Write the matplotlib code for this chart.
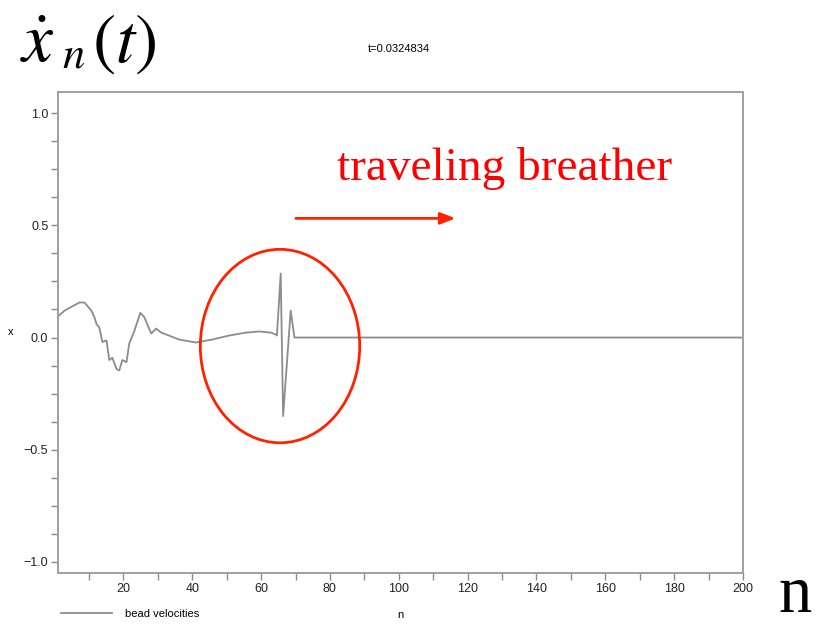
import matplotlib.pyplot as plt
from matplotlib.patches import Ellipse
from matplotlib.ticker import MultipleLocator

# bead index and velocity snapshot
n = [1, 2.9, 7.2, 8.7, 10.7, 11.6, 12.2, 13.0, 13.9, 15.1, 15.9, 16.8, 18.0,
     18.8, 19.7, 20.9, 21.7, 23.2, 24.9, 26.1, 26.9, 28.1, 29.5, 31.0, 33.9,
     36.2, 41.1, 45.8, 50.7, 55.6, 59.4, 62.9, 64.3, 64.6, 65.7, 66.4, 68.6,
     69.7, 200]
v = [0.094, 0.12, 0.156, 0.156, 0.12, 0.09, 0.06, 0.045, -0.02, -0.013, -0.10,
     -0.09, -0.14, -0.147, -0.10, -0.11, -0.027, 0.03, 0.11, 0.09, 0.06, 0.018,
     0.04, 0.022, 0.005, -0.009, -0.022, -0.009, 0.009, 0.022, 0.027, 0.022,
     0.013, 0.009, 0.285, -0.35, 0.12, 0.0, 0.0]

t_label = 't=0.0324834'
grey = '#8c8c8c'
red = '#ff2200'

plt.rcParams['font.family'] = ['Liberation Sans', 'DejaVu Sans']
plt.rcParams['mathtext.fontset'] = 'stix'
fig = plt.figure(figsize=(8.19, 6.28), dpi=100)
ax = fig.add_axes([0.0708, 0.0876, 0.8364, 0.7659])

line, = ax.plot(n, v, color=grey, lw=1.3, label='bead velocities')
ax.set_xlim(1, 200)
ax.set_ylim(-1.049, 1.094)

ax.xaxis.set_major_locator(MultipleLocator(20))
ax.xaxis.set_minor_locator(MultipleLocator(10))
ax.yaxis.set_major_locator(MultipleLocator(0.5))
ax.yaxis.set_minor_locator(MultipleLocator(0.125))
ax.tick_params(which='both', direction='out', color=grey, length=5, width=1,
               labelsize=9, labelcolor='#222222', pad=2)
for s in ax.spines.values():
    s.set_color('#a0a0a0')
    s.set_linewidth(1.4)

ax.set_xlabel('n', fontsize=8, labelpad=11)
ax.set_ylabel('x', fontsize=8, rotation=0, labelpad=9, va='center')
fig.text(0.487, 0.922, t_label, fontsize=8, ha='center', va='center')

fig.legend(handles=[line], loc='center left', bbox_to_anchor=(0.062, 0.022),
           frameon=False, fontsize=8, handlelength=4.6, handletextpad=1.2)

# breather annotation
ax.add_patch(Ellipse((65.5, -0.038), 46.3, 0.862, fill=False,
                     edgecolor=red, lw=2.0, zorder=3))
ax.annotate('', xy=(116.5, 0.531), xytext=(70.1, 0.531),
            arrowprops=dict(arrowstyle='-|>,head_length=0.9,head_width=0.35',
                            color=red, lw=2.0, shrinkA=0, shrinkB=0))
ax.text(82, 0.70, 'traveling breather', color='red', fontsize=34,
        family='Liberation Serif', va='baseline', ha='left')

# large axis symbols
fig.text(0.024, 0.901, r'$\dot{x}$', fontsize=50, va='baseline')
fig.text(0.076, 0.893, r'$n$', fontsize=32, va='baseline')
fig.text(0.112, 0.901, r'$(t)$', fontsize=50, va='baseline')
fig.text(0.950, 0.025, 'n', fontsize=48, family='Liberation Serif',
         va='baseline')

fig.savefig('out.png', dpi=100)
